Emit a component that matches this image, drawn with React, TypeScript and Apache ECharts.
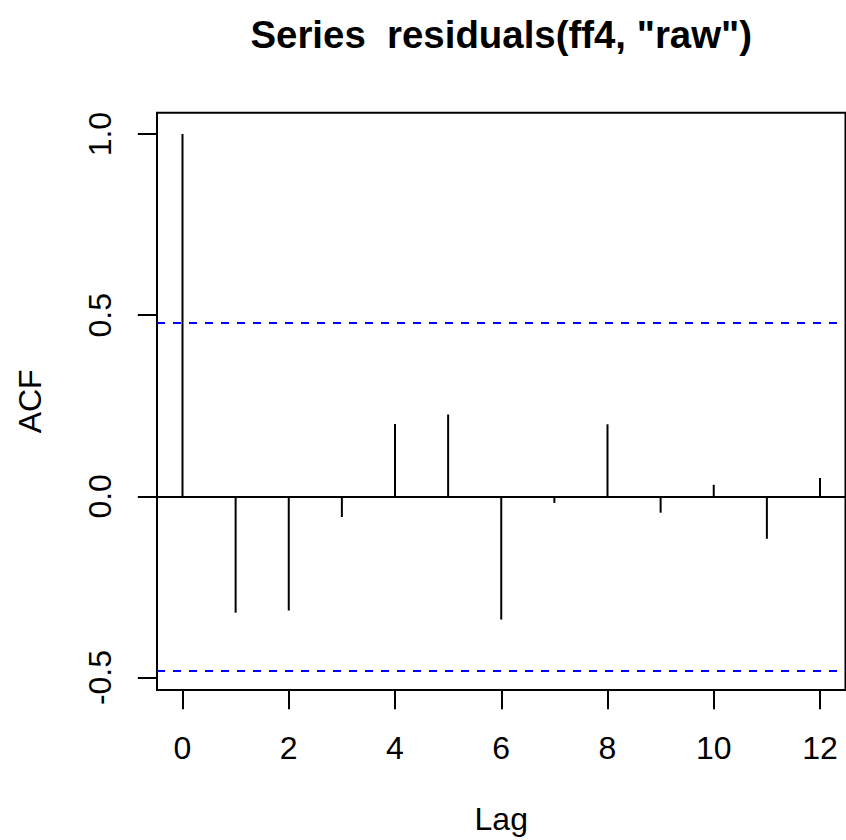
import React, { useEffect, useRef } from "react";
import * as echarts from "echarts";

// ---- data ----
const lags: number[] = [0, 1, 2, 3, 4, 5, 6, 7, 8, 9, 10, 11, 12];
const acfValues: number[] = [1.0, -0.321, -0.315, -0.057, 0.2, 0.226, -0.34, -0.018, 0.199, -0.045, 0.032, -0.117, 0.051];
const confLimit = 0.4754; // 1.96 / sqrt(17)
const xTicks: number[] = [0, 2, 4, 6, 8, 10, 12];
const yTicks: number[] = [-0.5, 0, 0.5, 1];
const titleText = 'Series  residuals(ff4, "raw")';

// R-style axis limits (range extended by 4%)
const xMin = -0.48, xMax = 12.48;
const yLo = -confLimit, yHi = 1.0;
const yPad = (yHi - yLo) * 0.04;

const FONT = "'Liberation Sans', Arial, Helvetica, sans-serif";
const GRID_LEFT = 157;
const GRID_RIGHT = 0.5;

export default function App() {
  const ref = useRef<HTMLDivElement>(null);
  useEffect(() => {
    if (!ref.current) return;
    const chart = echarts.init(ref.current, undefined, { renderer: "svg" });
    const spikeData = lags.map((l, i) => [l, acfValues[i]]);
    const plotCenter = GRID_LEFT + (846 - GRID_LEFT - GRID_RIGHT) / 2;
    chart.setOption({
      animation: false,
      backgroundColor: "#ffffff",
      title: {
        text: titleText,
        left: plotCenter,
        top: 15.2,
        textAlign: "center",
        padding: 0,
        textStyle: { fontFamily: FONT, fontSize: 38.4, fontWeight: "bold", color: "#000", lineHeight: 38.4 },
      },
      grid: {
        left: GRID_LEFT,
        right: GRID_RIGHT,
        top: 112.7,
        bottom: 148.3,
        show: true,
        borderColor: "#000",
        borderWidth: 2,
        backgroundColor: "transparent",
      },
      xAxis: {
        type: "value",
        min: xMin,
        max: xMax,
        name: "Lag",
        nameLocation: "middle",
        nameGap: 113,
        nameTextStyle: { fontFamily: FONT, fontSize: 32, color: "#000", lineHeight: 32 },
        axisLine: { show: false, onZero: false },
        splitLine: { show: false },
        axisTick: { show: true, inside: false, length: 19.2, lineStyle: { color: "#000", width: 2 }, customValues: xTicks },
        axisLabel: { show: true, margin: 42, fontFamily: FONT, fontSize: 32, color: "#000", lineHeight: 32, customValues: xTicks, formatter: (v: number) => String(v) },
      },
      yAxis: {
        type: "value",
        min: yLo - yPad,
        max: yHi + yPad,
        name: "ACF",
        nameLocation: "middle",
        nameGap: 111,
        nameRotate: 90,
        nameTextStyle: { fontFamily: FONT, fontSize: 32, color: "#000", lineHeight: 32 },
        axisLine: { show: false, onZero: false },
        splitLine: { show: false },
        axisTick: { show: true, inside: false, length: 19.2, lineStyle: { color: "#000", width: 2 }, customValues: yTicks },
        axisLabel: { show: true, rotate: 90, margin: 41, fontFamily: FONT, fontSize: 32, color: "#000", lineHeight: 32, customValues: yTicks, formatter: (v: number) => v.toFixed(1) },
      },
      series: [
        {
          type: "custom",
          data: spikeData,
          silent: true,
          renderItem: (params: any, api: any) => {
            const x = api.value(0);
            const y = api.value(1);
            const p0 = api.coord([x, 0]);
            const p1 = api.coord([x, y]);
            return {
              type: "line",
              shape: { x1: p0[0], y1: p0[1], x2: p1[0], y2: p1[1] },
              style: { stroke: "#000", lineWidth: 2 },
            };
          },
          markLine: {
            silent: true,
            symbol: "none",
            label: { show: false },
            data: [
              { yAxis: 0, lineStyle: { color: "#000", width: 2, type: "solid" } },
              { yAxis: confLimit, lineStyle: { color: "#0000ff", width: 2, type: [8, 8] } },
              { yAxis: -confLimit, lineStyle: { color: "#0000ff", width: 2, type: [8, 8] } },
            ],
          },
        },
      ],
    });
    return () => chart.dispose();
  }, []);

  return (
    <div style={{ position: "absolute", left: 0, top: 0, width: 846, height: 840, overflow: "hidden", background: "#fff" }}>
      <div ref={ref} style={{ width: 846, height: 840 }} />
    </div>
  );
}
